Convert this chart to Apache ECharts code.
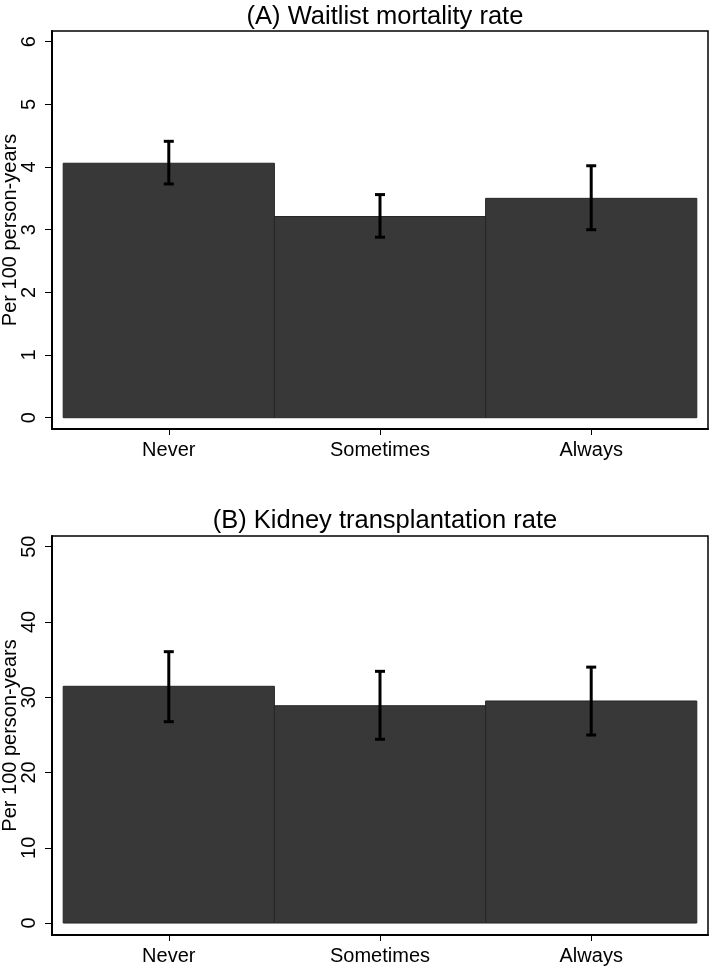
<!DOCTYPE html>
<html>
<head>
<meta charset="utf-8">
<script src="https://cdn.jsdelivr.net/npm/echarts@6/dist/echarts.min.js"></script>
<style>
html,body{margin:0;padding:0;background:#fff;}
#chart{width:712px;height:966px;}
</style>
</head>
<body>
<div id="chart"></div>
<script>
const categories = ['Never', 'Sometimes', 'Always'];
const mortalityRate = [4.06, 3.21, 3.50];
const mortalityLow = [3.73, 2.88, 3.00];
const mortalityHigh = [4.41, 3.56, 4.02];
const transplantRate = [31.45, 28.87, 29.5];
const transplantLow = [26.75, 24.41, 24.98];
const transplantHigh = [36.05, 33.44, 34.0];
const yTicksA = [0, 1, 2, 3, 4, 5, 6];
const yTicksB = [0, 10, 20, 30, 40, 50];
const xTicks = [0, 1, 2];
const titleA = '(A) Waitlist mortality rate';
const titleB = '(B) Kidney transplantation rate';
const yName = 'Per 100 person-years';

const FONT = '"Liberation Sans", Arial, Helvetica, sans-serif';

function barRender(params, api) {
  const i = api.value(0), v = api.value(1);
  const p0 = api.coord([i - 0.5, 0]);
  const p1 = api.coord([i + 0.5, v]);
  return {
    type: 'rect',
    shape: {x: p0[0], y: p1[1], width: p1[0] - p0[0], height: p0[1] - p1[1]},
    style: {fill: '#383838', stroke: '#262626', lineWidth: 1}
  };
}
function errRender(params, api) {
  const i = api.value(0), lo = api.value(1), hi = api.value(2);
  const a = api.coord([i, lo]);
  const b = api.coord([i, hi]);
  const cap = 5;
  const st = {stroke: '#000', lineWidth: 3};
  return {
    type: 'group',
    children: [
      {type: 'line', shape: {x1: a[0], y1: a[1], x2: b[0], y2: b[1]}, style: st},
      {type: 'line', shape: {x1: a[0] - cap, y1: a[1], x2: a[0] + cap, y2: a[1]}, style: st},
      {type: 'line', shape: {x1: b[0] - cap, y1: b[1], x2: b[0] + cap, y2: b[1]}, style: st}
    ]
  };
}

function xAxisDef(gi) {
  return {
    type: 'value', gridIndex: gi, min: -0.553, max: 2.553,
    splitLine: {show: false},
    axisLine: {show: true, onZero: false, lineStyle: {color: '#000', width: 2}},
    axisTick: {show: true, customValues: xTicks, length: 6, lineStyle: {color: '#000', width: 1}},
    axisLabel: {customValues: xTicks, formatter: v => categories[Math.round(v)], margin: 11,
      color: '#000', fontSize: 20, fontFamily: FONT}
  };
}
function yAxisDef(gi, mn, mx, ticks) {
  return {
    type: 'value', gridIndex: gi, min: mn, max: mx,
    name: yName, nameLocation: 'middle', nameGap: 32, nameMoveOverlap: false,
    nameTextStyle: {color: '#000', fontSize: 20, fontFamily: FONT},
    splitLine: {show: false},
    axisLine: {show: true, onZero: false, lineStyle: {color: '#000', width: 2}},
    axisTick: {show: true, customValues: ticks, length: 7, lineStyle: {color: '#000', width: 1}},
    axisLabel: {customValues: ticks, rotate: 90, margin: 13, color: '#000', fontSize: 20, fontFamily: FONT}
  };
}

const chart = echarts.init(document.getElementById('chart'), null, {renderer: 'canvas'});
chart.setOption({
  animation: false,
  backgroundColor: '#fff',
  title: [
    {text: titleA, left: 380, top: -1, textAlign: 'center',
      textStyle: {fontSize: 25.5, fontWeight: 'normal', color: '#000', fontFamily: FONT}},
    {text: titleB, left: 380, top: 503, textAlign: 'center',
      textStyle: {fontSize: 25.5, fontWeight: 'normal', color: '#000', fontFamily: FONT}}
  ],
  grid: [
    {left: 52, top: 31, width: 656, height: 398, containLabel: false, outerBoundsMode: 'none',
      show: true, borderColor: '#000', borderWidth: 1.5, backgroundColor: 'transparent'},
    {left: 52, top: 536, width: 656, height: 399, containLabel: false, outerBoundsMode: 'none',
      show: true, borderColor: '#000', borderWidth: 1.5, backgroundColor: 'transparent'}
  ],
  xAxis: [xAxisDef(0), xAxisDef(1)],
  yAxis: [yAxisDef(0, -0.18, 6.17, yTicksA), yAxisDef(1, -1.59, 51.42, yTicksB)],
  series: [
    {type: 'custom', xAxisIndex: 0, yAxisIndex: 0, renderItem: barRender,
      data: mortalityRate.map((v, i) => [i, v]), z: 2},
    {type: 'custom', xAxisIndex: 0, yAxisIndex: 0, renderItem: errRender,
      data: mortalityRate.map((v, i) => [i, mortalityLow[i], mortalityHigh[i]]), z: 3},
    {type: 'custom', xAxisIndex: 1, yAxisIndex: 1, renderItem: barRender,
      data: transplantRate.map((v, i) => [i, v]), z: 2},
    {type: 'custom', xAxisIndex: 1, yAxisIndex: 1, renderItem: errRender,
      data: transplantRate.map((v, i) => [i, transplantLow[i], transplantHigh[i]]), z: 3}
  ]
});
</script>
</body>
</html>
